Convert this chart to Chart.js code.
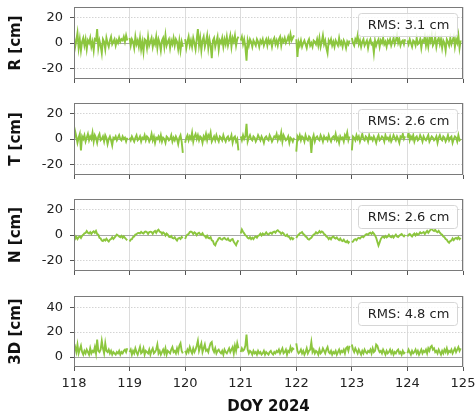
<!DOCTYPE html>
<html>
<head>
<meta charset="utf-8">
<script src="https://cdn.jsdelivr.net/npm/chart.js@4/dist/chart.umd.min.js"></script>
<style>
  body { margin: 0; background: #fff; width: 475px; height: 415px; overflow: hidden; position: relative; }
  canvas { position: absolute; left: 0; }
</style>
</head>
<body>
<canvas id="cR" width="475" height="91" style="top:0px"></canvas>
<canvas id="cT" width="475" height="91" style="top:96px"></canvas>
<canvas id="cN" width="475" height="91" style="top:192px"></canvas>
<canvas id="c3D" width="475" height="126" style="top:289px"></canvas>
<script>
// time axis: day of year 2024, 48 epochs per day
const firstDoy = 118;
const epochsPerDay = 48;
const dayTicks = [118, 119, 120, 121, 122, 123, 124, 125];

// R residuals [cm], one list per day
const rDays = [
  [5, -3, 2, 8, -4, 3, -6, 1, 4, -2, 3, -5, 2, 0, 4, -3, 1, -6, 3, 2, 11, -4, 2, -2, -8, 3, 1, -5, 4, 0, -3, 2, 5, -1, 1, 3, -2, 2, 0, 4, 1, 3, 2, 5, 1, 6, 2],
  [4, -2, 3, 1, -4, 5, -1, 2, -3, 4, -5, 1, -7, 3, 2, -4, 5, -2, 1, 4, -3, 2, -1, 5, -4, 3, 0, -6, 2, 4, -3, 6, -2, 1, 3, -4, 2, -1, 4, -2, 3, 1, -5, 2, -6, 1, -3],
  [3, -4, 1, 5, -2, 2, -3, 4, 0, -5, 3, 11, -2, 4, -6, 2, 5, -3, 1, 6, -4, 3, -2, -12, 2, 4, -3, 1, 5, -5, 2, 0, 4, -3, 3, -1, 5, -2, 2, 6, -3, 4, 1, 6, -2, 3, 5],
  [2, 5, -1, 3, -3, -14, 2, -2, 3, 1, -3, 2, 0, -2, 3, 1, -3, 2, 0, 3, -2, 1, 3, -2, 3, 0, 2, -3, 2, 4, -1, 2, -2, 3, 5, -2, 3, 1, 4, 0, 2, 5, 1, 7, 2, 4, 6],
  [3, -11, 1, -2, 2, -3, 0, 2, -1, -4, 1, 3, -2, 0, -3, 2, 1, -1, 3, -2, 4, -3, 1, 6, -1, 2, -4, -8, 2, 0, 3, -2, 1, -3, 2, 0, -2, 4, -1, 1, -3, 2, 0, -4, 1, -1, 2],
  [4, 0, -2, 3, 1, 6, -1, 2, -3, 1, 3, -2, 0, 2, -4, 1, 3, -1, 0, -8, 2, -2, 1, 3, -3, 2, 0, 4, -1, 1, -3, 2, 0, 3, -2, 1, 4, -1, 2, 6, 0, 3, -2, 1, 2, -1, 3],
  [2, -1, 3, 0, -3, 2, 1, -2, 4, -1, 0, 3, -4, 2, 1, 5, -2, 3, -3, 4, 1, 6, -2, 0, 5, -3, 2, 4, -1, 3, -4, 2, 0, -6, 3, 1, -2, 4, -1, 2, 5, -3, 3, 0, 6, -4, 2]
];

// T residuals [cm]
const tDays = [
  [-2, 6, 2, -3, 1, 4, -9, 2, 0, 3, -2, 1, 4, -1, 2, 0, 5, -2, 3, 1, -3, 2, 4, -1, 0, 2, -2, 3, 1, -4, 0, 2, -1, -5, 1, 0, 2, -1, 1, 3, 0, -1, 2, 0, 1, -2, 1],
  [1, -1, 2, 0, -2, 1, 3, -1, 0, 2, -2, 1, 0, 3, -1, 2, 1, -2, 0, 4, -1, 2, -3, 1, 0, 2, -1, 3, -2, 1, 0, -3, 2, 1, -1, 0, 3, -2, 1, -1, 2, 0, -4, 1, 3, -2, -11],
  [-3, 1, 3, -1, 2, 0, 5, -2, 2, 4, 0, 3, -1, 2, 1, -3, 2, 0, 4, -1, 3, 1, 5, -2, 0, 2, -1, 3, 0, -2, 2, 1, -1, 3, 0, -2, 1, 2, -1, 0, 3, -3, 1, 2, -2, 0, -9],
  [2, -1, 3, 0, 2, 12, -2, 1, 3, 0, -1, 2, 1, -2, 0, 3, 1, -1, 2, 0, -3, 1, 2, 0, -1, 3, 1, -2, 0, 2, 1, 4, -1, 2, 0, 5, -2, 3, 1, -1, 0, 2, -3, 1, 0, -2, 1],
  [-10, 2, 0, 3, -1, 2, 1, -2, 3, 0, -1, 2, 1, -11, 0, 3, -2, 1, 2, 0, -1, 3, 1, -2, 2, 0, 1, -1, 3, 0, -2, 1, 2, 0, 4, -1, 1, -3, 2, 0, 1, -2, 3, 1, 5, -1, 2],
  [-9, 2, 1, -1, 3, 0, 2, -2, 1, 4, 0, -1, 2, 1, -2, 3, 0, 1, -1, 2, 0, -3, 1, 3, -1, 0, 2, 1, -2, 3, 0, 1, -1, 2, -2, 0, 3, 1, -1, 2, 0, -3, 2, 1, 4, 0, 2],
  [1, 5, -1, 2, 0, 3, -2, 1, 2, -1, 0, 3, 1, -2, 2, 0, -1, 1, 3, -2, 0, 2, 1, -1, 0, 2, -3, 1, 3, 0, -1, 2, 1, -2, 0, 3, -1, 1, 2, -3, 0, 2, 1, -2, 3, -1, 0]
];

// N residuals [cm]
const nDays = [
  [1, -3, -1.5, -3.2, -1.8, -1.2, -2.4, -0.6, 0.2, 1.3, 1.6, 3.1, 1.8, 1.2, 2.3, 0.8, 2.2, 2.9, 1.7, 3.2, 0.8, 0.3, -2.2, -2.8, -4.3, -4.8, -3.6, -4.4, -2.9, -4.2, -5.1, -3.7, -3.2, -1.8, -3.1, -2.1, -0.9, 0.4, -0.3, -1.2, -1.8, -0.7, -2.3, -1.1, -2.2, -3.3, -4.1],
  [-5.2, -3.6, -3.3, -1.6, -1.2, 0.4, 0.7, 1.5, 1.6, 1.3, 2.4, 1.6, 1.2, 2.5, 2.7, 2.2, 0.8, 2.4, 2.6, 2.3, 0.9, 2.5, 3.2, 1.7, 3.4, 4.2, 2.6, 2.3, 0.8, 2.1, 1.3, -0.4, 1.2, 0.3, -1.3, -1.7, -0.8, -2.4, -2.7, -1.8, -3.3, -4.4, -2.7, -2.3, -3.2, -1.6, -2.4],
  [-3.2, -0.7, 0.3, 0.8, 2.3, 2.7, 2.2, 0.8, 2.1, 1.4, -0.2, 1.2, 1.8, 0.7, 0.3, 1.4, -0.3, -0.8, -2.2, -0.6, -2.3, -2.7, -1.8, -4.2, -4.7, -7.3, -8.2, -5.6, -4.3, -2.6, -2.3, -3.4, -3.7, -2.6, -2.3, -3.4, -3.8, -2.7, -4.3, -4.8, -3.6, -3.2, -5.3, -6.8, -8.1, -5.7, -4.2],
  [1.2, 4.3, 2.6, 1.3, -0.3, -0.8, -2.3, -2.8, -1.7, -3.2, -2.1, -3.3, -1.8, -1.2, -2.1, -0.6, -0.2, 1.1, -0.3, 1.2, 0.2, 0.8, 2.1, 0.7, 0.3, 1.4, 1.8, 0.9, 2.3, 2.7, 1.8, 3.2, 3.8, 2.7, 2.2, 0.8, 1.9, 1.2, -0.3, -0.8, 0.3, -1.4, -1.7, -3.2, -2.1, -3.3, -2.2],
  [-2.3, -0.7, 0.2, 1.3, 1.7, 2.3, 0.8, 0.2, -1.3, -1.8, -3.2, -3.7, -2.8, -2.2, -0.8, 0.3, 0.8, 2.2, 1.2, 1.8, 3.1, 1.9, 2.8, 2.2, 0.7, 0.2, -1.3, -1.8, -3.2, -2.1, -3.3, -1.7, -1.2, -2.3, -2.8, -1.9, -3.3, -4.1, -2.8, -4.3, -4.8, -3.7, -5.2, -5.8, -4.7, -6.2, -5.1],
  [-5.8, -5.2, -3.7, -3.3, -4.2, -2.7, -2.3, -2.8, -1.7, -1.2, -1.8, -0.6, 0.3, 0.8, 0.2, 1.3, 1.8, 0.8, 2.2, 1.1, -0.3, -2.2, -5.3, -8.3, -5.8, -3.2, -1.7, -1.3, -2.2, -0.8, -1.9, -1.2, 0.2, -1.3, -1.8, -0.7, -2.1, -0.8, 0.3, -1.2, -1.7, -0.6, 0.2, 0.8, -0.3, -1.1, 0.2],
  [-1.2, 0.3, 0.8, -0.2, -1.1, 0.3, 1.2, -0.3, 1.1, 0.2, 0.8, 2.2, 1.3, 1.8, 2.3, 0.8, 2.1, 3.2, 1.8, 3.1, 4.2, 4.8, 3.7, 3.2, 4.1, 2.7, 2.2, 3.3, 1.8, 0.8, 0.2, -1.3, -1.8, -3.2, -3.8, -5.3, -6.2, -4.8, -4.3, -2.7, -4.1, -2.8, -2.3, -3.2, -1.8, -3.3, -2.2]
];

// 3D error [cm]
const dDays = [
  [5, 8, 4, 10, 3, 6, 9, 4, 2, 5, 3, 6, 4, 2, 7, 3, 5, 4, 8, 3, 14, 5, 4, 6, 13, 7, 3, 11, 5, 4, 6, 3, 5, 2, 4, 3, 2, 4, 3, 5, 2, 4, 3, 5, 6, 4, 7],
  [4, 6, 2, 5, 3, 7, 4, 2, 5, 8, 3, 4, 7, 2, 5, 4, 3, 6, 2, 5, 7, 3, 4, 6, 10, 3, 5, 2, 4, 6, 3, 7, 2, 5, 4, 3, 6, 8, 4, 5, 3, 7, 4, 9, 11, 5, 3],
  [5, 3, 6, 4, 8, 5, 3, 7, 4, 6, 9, 13, 5, 8, 11, 4, 7, 10, 5, 6, 4, 8, 11, 12, 6, 4, 7, 3, 5, 6, 4, 3, 5, 2, 6, 4, 3, 5, 7, 4, 6, 8, 3, 9, 5, 11, 7],
  [4, 7, 5, 6, 9, 18, 6, 3, 5, 4, 2, 5, 3, 4, 2, 5, 3, 4, 2, 3, 5, 2, 4, 3, 2, 4, 5, 3, 2, 4, 3, 5, 4, 6, 3, 5, 7, 3, 4, 6, 2, 5, 4, 8, 5, 7, 6],
  [11, 5, 3, 4, 6, 3, 5, 2, 4, 7, 3, 5, 6, 12, 4, 6, 3, 5, 4, 2, 6, 3, 4, 7, 5, 3, 6, 8, 4, 3, 5, 2, 4, 3, 5, 2, 4, 6, 3, 5, 4, 6, 3, 7, 8, 5, 9],
  [10, 6, 4, 7, 5, 3, 6, 4, 2, 5, 3, 6, 4, 3, 5, 4, 6, 3, 7, 4, 5, 10, 9, 6, 4, 5, 3, 6, 4, 2, 5, 3, 4, 6, 3, 5, 2, 4, 3, 5, 6, 3, 4, 2, 5, 3, 4],
  [3, 6, 4, 2, 5, 3, 4, 6, 3, 5, 2, 4, 6, 3, 5, 4, 6, 3, 7, 5, 8, 9, 6, 7, 4, 5, 3, 6, 4, 2, 5, 3, 6, 4, 7, 3, 5, 4, 6, 3, 5, 7, 4, 6, 8, 5, 7]
];

const rmsLabels = ['RMS: 3.1 cm', 'RMS: 2.6 cm', 'RMS: 2.6 cm', 'RMS: 4.8 cm'];

const lineColor = '#8cc63e';
const fontFam = "'DejaVu Sans', sans-serif";

function toPoints(days) {
  const pts = [];
  days.forEach((vals, d) => {
    vals.forEach((v, i) => pts.push({ x: firstDoy + d + i / epochsPerDay, y: v }));
    pts.push({ x: firstDoy + d + vals.length / epochsPerDay, y: null });
  });
  return pts;
}

// frame + RMS box
const panelDeco = {
  id: 'panelDeco',
  afterDatasetsDraw(chart, args, opts) {
    const { ctx, chartArea: a } = chart;
    ctx.save();
    ctx.strokeStyle = '#7a7a7a';
    ctx.lineWidth = 1;
    ctx.strokeRect(Math.round(a.left) + 0.5, Math.round(a.top) + 0.5,
      Math.round(a.right - a.left) - 1, Math.round(a.bottom - a.top) - 1);
    const w = 99, h = 23;
    const x = a.right - 6 - w, y = a.top + 6;
    ctx.beginPath();
    ctx.roundRect(x + 0.5, y + 0.5, w, h, 3);
    ctx.fillStyle = 'rgba(255,255,255,0.8)';
    ctx.fill();
    ctx.strokeStyle = '#d6d6d6';
    ctx.stroke();
    ctx.fillStyle = '#222';
    ctx.font = '13px ' + fontFam;
    ctx.textAlign = 'center';
    ctx.textBaseline = 'middle';
    ctx.fillText(opts.text, x + w / 2 + 1, y + h / 2 + 1);
    ctx.restore();
  }
};

function makePanel(id, days, label, rms, yMin, yMax, yTicks, isBottom) {
  new Chart(document.getElementById(id), {
    type: 'line',
    data: {
      datasets: [{
        data: toPoints(days),
        borderColor: lineColor,
        borderWidth: 1.9,
        pointRadius: 0,
        tension: 0,
        spanGaps: false
      }]
    },
    options: {
      responsive: false,
      animation: false,
      events: [],
      layout: { padding: { top: 7, right: 12, bottom: 0, left: 0 } },
      plugins: {
        legend: { display: false },
        tooltip: { enabled: false },
        panelDeco: { text: rms }
      },
      scales: {
        x: {
          type: 'linear',
          min: 118,
          max: 125,
          afterBuildTicks: s => { s.ticks = dayTicks.map(v => ({ value: v })); },
          afterFit: s => {
            s.height = isBottom ? 48 : 12;
            s.paddingLeft = 0;
            s.paddingRight = 0;
          },
          grid: { color: '#dcdcdc', tickColor: '#555', tickLength: 4 },
          border: { display: false },
          ticks: {
            display: isBottom,
            color: '#222',
            maxRotation: 0,
            padding: 5,
            font: { family: fontFam, size: 13 }
          },
          title: {
            display: isBottom,
            text: 'DOY 2024',
            color: '#111',
            font: { family: fontFam, size: 15, weight: 'bold', lineHeight: 1 },
            padding: { top: 0, bottom: 0 }
          }
        },
        y: {
          min: yMin,
          max: yMax,
          afterBuildTicks: s => { s.ticks = yTicks.map(v => ({ value: v })); },
          afterFit: s => {
            s.width = 74;
            s.paddingTop = 0;
            s.paddingBottom = 0;
          },
          grid: {
            color: c => (c.tick && c.tick.value === 0) ? '#a8a8a8' : '#d4d4d4',
            tickColor: '#555',
            tickLength: 4
          },
          border: {
            display: false,
            dash: c => (c.tick && c.tick.value === 0) ? [] : [1.5, 1.5]
          },
          ticks: {
            color: '#222',
            padding: 7,
            font: { family: fontFam, size: 13 }
          },
          title: {
            display: true,
            text: label,
            color: '#111',
            font: { family: fontFam, size: 15, weight: 'bold' },
            padding: { top: 7, bottom: 0 }
          }
        }
      }
    },
    plugins: [panelDeco]
  });
}

makePanel('cR', rDays, 'R [cm]', rmsLabels[0], -28.5, 28.5, [-20, 0, 20], false);
makePanel('cT', tDays, 'T [cm]', rmsLabels[1], -28.5, 28.5, [-20, 0, 20], false);
makePanel('cN', nDays, 'N [cm]', rmsLabels[2], -28.5, 28.5, [-20, 0, 20], false);
makePanel('c3D', dDays, '3D [cm]', rmsLabels[3], -8, 49, [0, 20, 40], true);
</script>
</body>
</html>
